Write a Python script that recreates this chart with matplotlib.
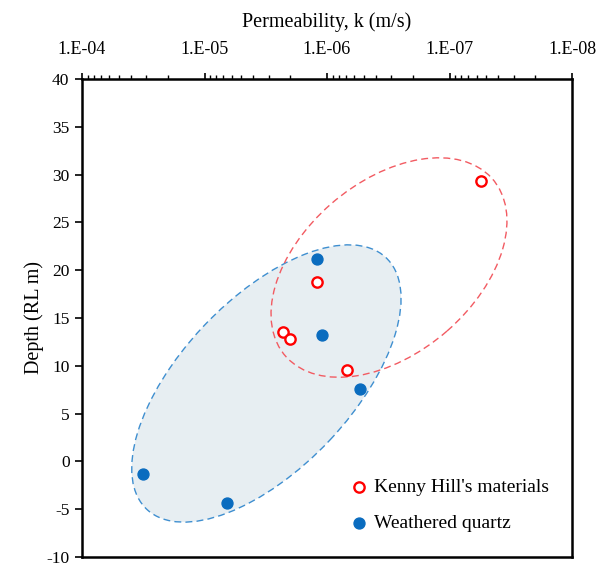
import matplotlib.pyplot as plt
import matplotlib.ticker as mticker
from matplotlib.patches import Ellipse
import numpy as np

plt.rcParams['font.family'] = ['Liberation Serif', 'DejaVu Serif']
plt.rcParams['axes.unicode_minus'] = False

# Kenny Hill's materials
kh_k = [5.5e-8, 1.2e-6, 2.3e-6, 2.0e-6, 6.9e-7]
kh_depth = [29.3, 18.8, 13.5, 12.8, 9.6]

# Weathered quartz
wq_k = [1.2e-6, 1.1e-6, 5.4e-7, 3.2e-5, 6.5e-6]
wq_depth = [21.2, 13.2, 7.6, -1.3, -4.3]

fig = plt.figure(figsize=(5.97, 5.68), dpi=100)
ax = fig.add_axes([82 / 597, 1 - 557 / 568, 490 / 597, 478 / 568])

# grouping ellipses (drawn in axes fraction)
blue_ell = Ellipse((0.3763, 0.363), 0.718, 0.351, angle=47.5, transform=ax.transAxes,
                   facecolor='#e7eef2', edgecolor='#3f8fd0', linestyle=(0, (5, 3)),
                   linewidth=1.0, zorder=1)
red_ell = Ellipse((0.6265, 0.6056), 0.562, 0.356, angle=41.8, transform=ax.transAxes,
                  facecolor='none', edgecolor='#f25b62', linestyle=(0, (5, 3)),
                  linewidth=1.0, zorder=2)
ax.add_patch(blue_ell)
ax.add_patch(red_ell)

ax.scatter(kh_k, kh_depth, s=55, facecolors='white', edgecolors='#ff0000',
           linewidths=1.7, zorder=4, label="Kenny Hill's materials")
ax.scatter(wq_k, wq_depth, s=62, color='#0a6cbf', zorder=3, label='Weathered quartz')

ax.set_xscale('log')
ax.set_xlim(1e-4, 1e-8)
ax.set_ylim(-10, 40)
ax.set_yticks(np.arange(-10, 41, 5))

ax.xaxis.tick_top()
ax.xaxis.set_label_position('top')
ax.xaxis.set_major_locator(mticker.LogLocator(base=10, numticks=10))
ax.xaxis.set_minor_locator(mticker.LogLocator(base=10, subs=np.arange(2, 10), numticks=10))
ax.xaxis.set_minor_formatter(mticker.NullFormatter())
ax.xaxis.set_major_formatter(mticker.FuncFormatter(
    lambda v, p: '1.E-%02d' % round(-np.log10(v))))

ax.tick_params(axis='x', which='major', direction='out', length=4, width=1.2,
               labelsize=13, pad=11)
ax.tick_params(axis='x', which='minor', direction='out', length=3, width=1.0)
ax.tick_params(axis='y', direction='out', length=5, width=1.2, labelsize=12.5, pad=4)

for s in ax.spines.values():
    s.set_linewidth(1.8)

ax.set_xlabel('Permeability, k (m/s)', fontsize=14.5, labelpad=10)
ax.set_ylabel('Depth (RL m)', fontsize=14.5, labelpad=2)

ax.legend(loc='lower right', bbox_to_anchor=(0.985, 0.02), frameon=False, fontsize=14,
          handletextpad=0.0, borderpad=0.3, labelspacing=0.95, handlelength=1.6)

fig.savefig('out.png', dpi=100)
